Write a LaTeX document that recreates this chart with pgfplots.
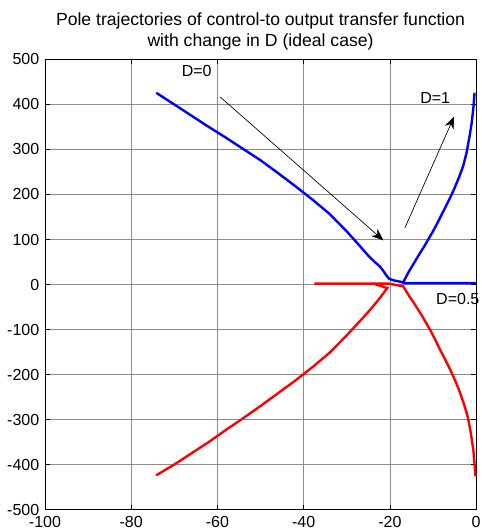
\documentclass[border=0pt]{standalone}
\usepackage{fontspec}
\setmainfont{Liberation Sans}
\usepackage{pgfplots}
\pgfplotsset{compat=1.18}
\usetikzlibrary{arrows.meta}

\begin{document}
\begin{tikzpicture}
\begin{axis}[
  width=323.25pt, height=337.5pt, scale only axis,
  xmin=-100, xmax=0, ymin=-500, ymax=500,
  xtick={-100,-80,...,0}, ytick={-500,-400,...,500},
  grid=major,
  major grid style={draw=black!45, line width=0.5pt},
  axis line style={line width=0.6pt},
  tick align=inside, major tick length=3.5pt,
  tick style={black, line width=0.5pt},
  every tick label/.append style={font=\fontsize{12}{14}\selectfont},
  xticklabel style={yshift=-1.2pt},
  yticklabel style={xshift=-0.8pt},
  /pgf/number format/assume math mode=true,
  title={Pole trajectories of control-to output transfer function\\with change in D (ideal case)},
  title style={font=\fontsize{13.2}{15.75}\selectfont, align=center, yshift=-2.5pt},
  clip=false,
]
% upper-left complex branch, merging onto the real axis (blue)
\addplot[blue, line width=1.8pt] coordinates {
  (-74.2,426) (-70,400) (-66,375) (-62,350) (-58,326) (-54,301) (-50,276)
  (-46,248) (-42,219) (-38,189) (-34,157) (-30,118) (-27,86) (-25,64)
  (-23.5,50) (-22.3,40) (-21.5,30) (-20.8,20) (-20.2,13) (-19,9)
  (-17.5,6) (-16.5,3) (0,3)
};
% right complex branch (blue)
\addplot[blue, line width=1.8pt] coordinates {
  (-16.9,5) (-16.5,12) (-15.8,25) (-15.0,38) (-14,54) (-13,70) (-12,85)
  (-11.1,100) (-10,118) (-9,136) (-8,155) (-7,174) (-6,193) (-5,214)
  (-4,237) (-3,263) (-2.2,293) (-1.5,330) (-1.0,360) (-0.6,395) (-0.35,426)
};
% lower-left complex branch (red)
\addplot[red, line width=1.8pt] coordinates {
  (-74.2,-424) (-70,-400) (-66,-375) (-62,-350) (-58,-323) (-54,-297)
  (-50,-270) (-46,-242) (-42,-214) (-38,-184) (-34,-152) (-30,-113)
  (-27,-82) (-25,-61) (-23.5,-44) (-22.3,-30) (-21.3,-17) (-20.6,-8)
  (-23.8,2)
};
% real-axis segment and right complex branch (red)
\addplot[red, line width=1.8pt] coordinates {
  (-37.5,2) (-20.3,2) (-16.9,-4) (-16.2,-15) (-15.5,-26) (-14.5,-40)
  (-13.5,-55) (-12.5,-70) (-11.5,-87) (-10.7,-100) (-9.5,-122) (-8.4,-144)
  (-7.2,-166) (-6,-189) (-5,-210) (-4,-233) (-2.9,-263) (-2.2,-285)
  (-1.8,-300) (-1.3,-325) (-1.0,-344) (-0.6,-370) (-0.35,-400) (-0.15,-426)
};
% direction arrows
\draw[black, line width=0.5pt, -{Stealth[length=9pt,width=7pt]}]
  (axis cs:-59.4,417) -- (axis cs:-21.5,98);
\draw[black, line width=0.5pt, -{Stealth[length=9pt,width=7pt]}]
  (axis cs:-16.5,126) -- (axis cs:-5.1,373);
% labels
\node[anchor=east, inner sep=0pt, font=\fontsize{12}{14}\selectfont] at (axis cs:-61.3,475) {D=0};
\node[anchor=west, inner sep=0pt, font=\fontsize{12}{14}\selectfont] at (axis cs:-13.0,414) {D=1};
\node[anchor=west, inner sep=0pt, font=\fontsize{12}{14}\selectfont] at (axis cs:-9.3,-32) {D=0.5};
\end{axis}
\pgfresetboundingbox
\path[use as bounding box]
  ([xshift=-33.75pt,yshift=-16.1pt]current axis.south west)
  rectangle ([xshift=3.75pt,yshift=44.6pt]current axis.north east);
\end{tikzpicture}
\end{document}
